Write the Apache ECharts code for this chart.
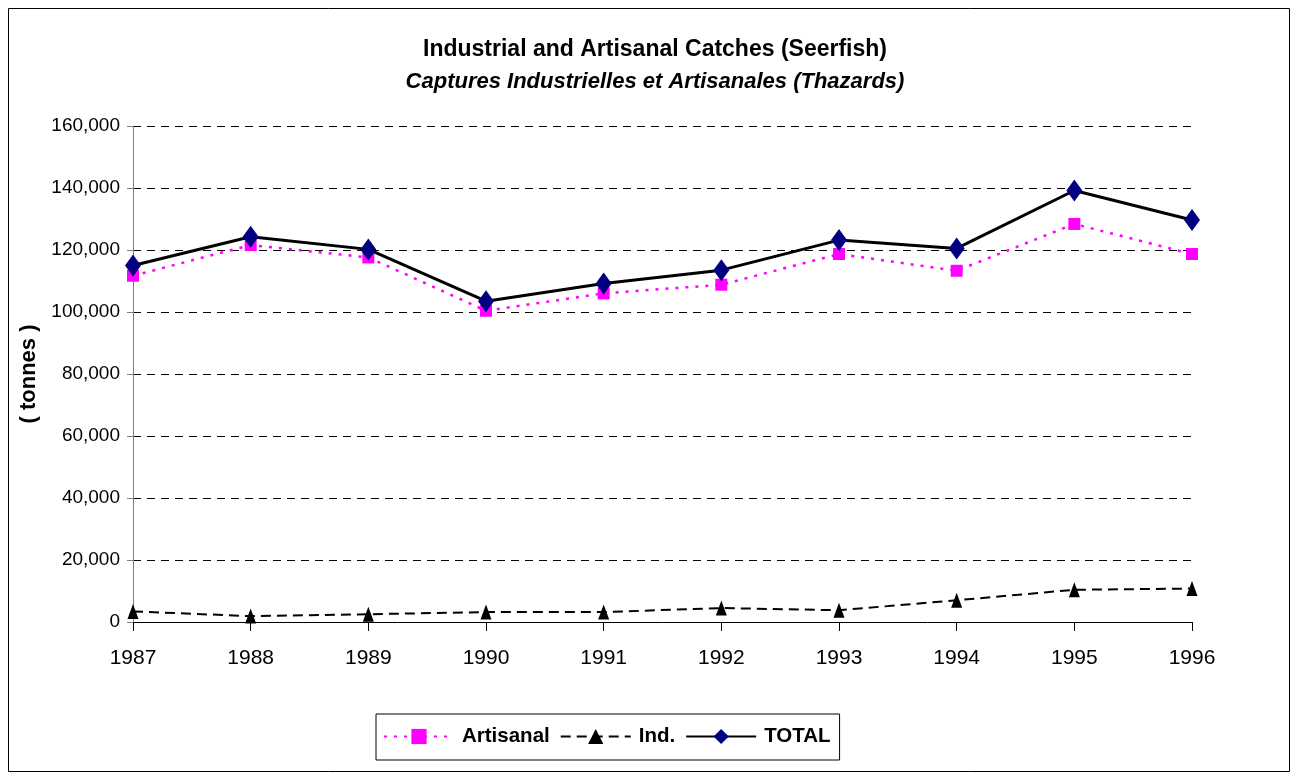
<!DOCTYPE html>
<html><head><meta charset="utf-8">
<script src="https://cdn.jsdelivr.net/npm/echarts@6/dist/echarts.min.js"></script>
<style>html,body{margin:0;padding:0;background:#fff}#c{width:1297px;height:778px}</style>
</head><body><div id="c"></div>
<script>
const years = ['1987','1988','1989','1990','1991','1992','1993','1994','1995','1996'];
const artisanal = [111700,121600,117600,100400,106000,108800,118700,113300,128400,118700];
const industrial = [3400,1900,2500,3200,3200,4500,3800,7000,10400,10800];
const total = [115000,124300,120200,103500,109200,113500,123200,120500,139200,129700];
const yTicks = [0,20000,40000,60000,80000,100000,120000,140000,160000];

const FONT = 'Liberation Sans, Arial, sans-serif';
const chart = echarts.init(document.getElementById('c'));
chart.setOption({
  animation: false,
  textStyle: {fontFamily: FONT},
  graphic: [{type:'rect', shape:{x:8.5,y:8.5,width:1281,height:763}, style:{fill:'none', stroke:'#000', lineWidth:1}, silent:true}],
  title: {
    text: 'Industrial and Artisanal Catches (Seerfish)',
    subtext: 'Captures Industrielles et Artisanales (Thazards)',
    left: 650, top: 33, textAlign: 'center', itemGap: 10,
    textStyle: {fontFamily: FONT, fontSize: 23, fontWeight: 'bold', color: '#000'},
    subtextStyle: {fontFamily: FONT, fontSize: 22, fontWeight: 'bold', fontStyle: 'italic', color: '#000'}
  },
  legend: {
    left: 376, top: 714,
    padding: [12, 9, 13, 7],
    borderColor: '#000', borderWidth: 1,
    itemWidth: 70, itemHeight: 19, itemGap: 10,
    textStyle: {fontFamily: FONT, fontSize: 20.5, fontWeight: 'bold', color: '#000', padding: [0, 0, 0, 3]},
    data: ['Artisanal','Ind.','TOTAL']
  },
  grid: {left: 133, right: 105, top: 126, bottom: 156, containLabel: false},
  xAxis: {
    type: 'category', data: years, boundaryGap: false,
    axisLine: {lineStyle: {color: '#000', width: 1}},
    axisTick: {show: true, alignWithLabel: true, length: 9, lineStyle: {color: '#000'}},
    axisLabel: {color: '#000', fontSize: 21, fontFamily: FONT, margin: 26}
  },
  yAxis: {
    type: 'value', min: 0, max: 160000, interval: 20000,
    name: '( tonnes )', nameLocation: 'middle', nameGap: 92, nameRotate: 90,
    nameTextStyle: {fontFamily: FONT, fontSize: 22, fontWeight: 'bold', color: '#000'},
    axisLine: {show: true, lineStyle: {color: '#808080', width: 1}},
    axisTick: {show: true, length: 6, lineStyle: {color: '#808080'}},
    axisLabel: {color: '#000', fontSize: 19, fontFamily: FONT, margin: 13,
      formatter: v => yTicks.includes(v) ? v.toLocaleString('en-US') : ''},
    splitLine: {show: true, lineStyle: {color: '#000', type: [8, 6], width: 1}}
  },
  series: [
    {name: 'Artisanal', type: 'line', data: artisanal, symbol: 'rect', symbolSize: 12,
     itemStyle: {color: '#ff00ff'}, lineStyle: {color: '#ff00ff', width: 2.5, type: [3, 7]}, z: 3},
    {name: 'Ind.', type: 'line', data: industrial, symbol: 'triangle', symbolSize: [11, 15],
     itemStyle: {color: '#000'}, lineStyle: {color: '#000', width: 2, type: [10, 6]}, z: 3},
    {name: 'TOTAL', type: 'line', data: total, symbol: 'diamond', symbolSize: [16, 22],
     itemStyle: {color: '#000080'}, lineStyle: {color: '#000', width: 3}, z: 4}
  ]
});
</script></body></html>
